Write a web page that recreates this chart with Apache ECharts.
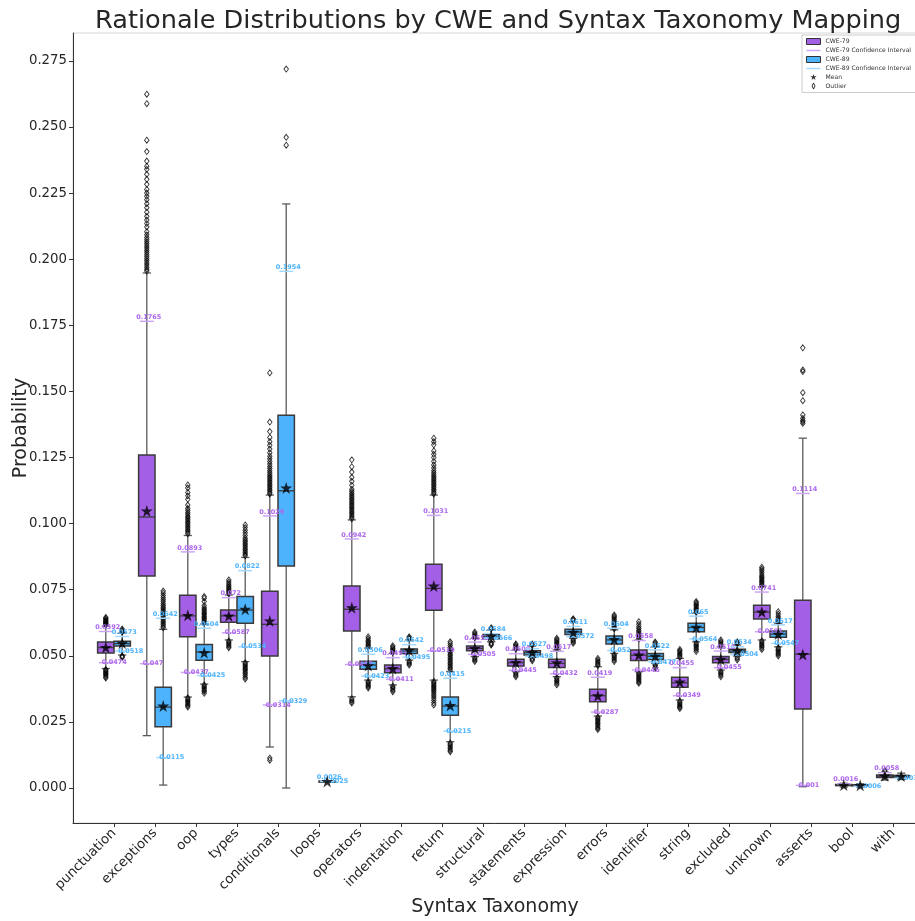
<!DOCTYPE html>
<html><head><meta charset="utf-8">
<script src="https://cdn.jsdelivr.net/npm/echarts@6/dist/echarts.min.js"></script>
<style>html,body{margin:0;padding:0;background:#fff}#c{width:915px;height:921px}</style>
</head><body><div id="c"></div>
<script>
const categories = ['punctuation','exceptions','oop','types','conditionals','loops','operators','indentation','return','structural','statements','expression','errors','identifier','string','excluded','unknown','asserts','bool','with'];
const yTicks = [0, 0.025, 0.05, 0.075, 0.1, 0.125, 0.15, 0.175, 0.2, 0.225, 0.25, 0.275];

// [lower whisker, Q1, median, Q3, upper whisker]
const cwe79Box = [
  [0.0452, 0.0511, 0.0531, 0.0552, 0.0612],
  [0.0198, 0.0802, 0.1025, 0.1259, 0.1948],
  [0.0344, 0.0572, 0.0651, 0.0729, 0.0955],
  [0.0560, 0.0627, 0.0651, 0.0673, 0.0730],
  [0.0155, 0.0499, 0.0619, 0.0744, 0.1108],
  null,
  [0.0345, 0.0594, 0.0676, 0.0764, 0.1014],
  [0.0390, 0.0436, 0.0451, 0.0465, 0.0509],
  [0.0408, 0.0672, 0.0755, 0.0846, 0.1108],
  [0.0497, 0.0519, 0.0528, 0.0537, 0.0566],
  [0.0440, 0.0461, 0.0474, 0.0487, 0.0522],
  [0.0421, 0.0456, 0.0471, 0.0487, 0.0522],
  [0.0272, 0.0326, 0.0349, 0.0373, 0.0459],
  [0.0440, 0.0482, 0.0502, 0.0522, 0.0560],
  [0.0333, 0.0381, 0.0398, 0.0419, 0.0490],
  [0.0446, 0.0474, 0.0486, 0.0497, 0.0534],
  [0.0560, 0.0639, 0.0665, 0.0691, 0.0761],
  [0.0005, 0.0299, 0.0506, 0.0710, 0.1323],
  [0.0004, 0.0009, 0.0011, 0.0013, 0.0018],
  [0.0030, 0.0040, 0.0045, 0.0049, 0.0060]
];
const cwe79Mean = [0.0532, 0.1048, 0.0653, 0.0651, 0.0632, null, 0.0682, 0.0452, 0.0764, 0.0528, 0.0475, 0.0474, 0.0349, 0.0503, 0.0401, 0.0487, 0.0666, 0.0505, 0.0011, 0.0046];
const cwe79CI = [
  [0.0474, 0.0592], [0.047, 0.1765], [0.0437, 0.0893], [0.0587, 0.072], [0.0314, 0.1029], null,
  [0.0467, 0.0942], [0.0411, 0.0493], [0.0519, 0.1031], [0.0505, 0.0552], [0.0445, 0.0508],
  [0.0432, 0.0517], [0.0287, 0.0419], [0.0446, 0.0558], [0.0349, 0.0455], [0.0455, 0.0518],
  [0.0591, 0.0741], [0.001, 0.1114], [null, 0.0016], [null, 0.0058]
];
const cwe79Outliers = [
  [0.0616,0.0619,0.0622,0.0625,0.0628,0.0631,0.0634,0.0638,0.0642,0.0645,0.0448,0.0445,0.0441,0.0437,0.0433,0.0429,0.0425,0.042,0.0416],
  [0.1955,0.1962,0.197,0.1978,0.1986,0.1994,0.2002,0.201,0.2018,0.2026,0.2034,0.2042,0.205,0.2058,0.2066,0.2074,0.2082,0.2092,0.2104,0.2122,0.2135,0.2148,0.2162,0.2178,0.2195,0.221,0.2225,0.2238,0.225,0.2264,0.2283,0.2302,0.2321,0.234,0.2352,0.2371,0.2407,0.245,0.2588,0.2624],
  [0.0962,0.0968,0.0974,0.098,0.0986,0.0992,0.0998,0.1004,0.101,0.1016,0.1022,0.1028,0.1035,0.1042,0.105,0.1058,0.107,0.1092,0.1105,0.1118,0.1135,0.1146,0.0341,0.0336,0.0331,0.0326,0.0321,0.0316,0.0311,0.0306],
  [0.0735,0.074,0.0745,0.075,0.0755,0.076,0.0766,0.0772,0.0779,0.0787,0.0556,0.0551,0.0546,0.0541,0.0535,0.053],
  [0.1112,0.1118,0.1124,0.113,0.1136,0.1142,0.1148,0.1154,0.116,0.1166,0.1172,0.1178,0.1185,0.1192,0.12,0.1208,0.1216,0.1225,0.1235,0.1245,0.1255,0.1268,0.1282,0.1296,0.131,0.1326,0.1348,0.1384,0.157,0.0113,0.0105],
  [],
  [0.1018,0.1024,0.103,0.1036,0.1042,0.1048,0.1054,0.106,0.1066,0.1072,0.1078,0.1084,0.109,0.1096,0.1102,0.1108,0.1115,0.1122,0.113,0.1145,0.116,0.1175,0.1195,0.1215,0.1241,0.0338,0.0332,0.0326,0.0321],
  [0.0513,0.0518,0.0523,0.0528,0.0533,0.0538,0.0385,0.038,0.0375,0.0369,0.0364],
  [0.1112,0.1118,0.1124,0.113,0.1136,0.1142,0.1148,0.1154,0.116,0.1166,0.1172,0.1178,0.1185,0.1192,0.12,0.121,0.1222,0.1235,0.125,0.1262,0.1275,0.1298,0.131,0.1323,0.0403,0.0398,0.0393,0.0388,0.0383,0.0378,0.0373,0.0368,0.0362,0.0355,0.0348,0.034,0.0332,0.0322,0.0314],
  [0.057,0.0575,0.058,0.0585,0.059,0.0493,0.0488,0.0483,0.0478],
  [0.0526,0.0531,0.0536,0.0541,0.0545,0.0436,0.0431,0.0426,0.0421],
  [0.0526,0.0531,0.0536,0.0541,0.0546,0.0551,0.0556,0.0561,0.0566,0.0417,0.0412,0.0407,0.0402,0.0396,0.039],
  [0.0463,0.0468,0.0473,0.0478,0.0484,0.049,0.0268,0.0263,0.0258,0.0253,0.0248,0.0243,0.0238,0.0232,0.0226,0.0221],
  [0.0564,0.0569,0.0574,0.0579,0.0584,0.059,0.0596,0.0603,0.061,0.0619,0.0629,0.0436,0.0431,0.0426,0.0421,0.0416,0.0411,0.0406,0.0401,0.0396],
  [0.0494,0.0499,0.0504,0.0509,0.0514,0.0519,0.0524,0.0329,0.0324,0.0319,0.0314,0.0309,0.0305,0.0301],
  [0.0538,0.0543,0.0548,0.0554,0.056,0.0442,0.0437,0.0432,0.0427,0.0421],
  [0.0765,0.077,0.0775,0.078,0.0785,0.079,0.0795,0.08,0.0806,0.0814,0.0822,0.0828,0.0835,0.0556,0.0551,0.0546,0.0541,0.0536,0.053,0.0524],
  [0.1379,0.1385,0.139,0.1398,0.1411,0.1465,0.1495,0.1575,0.1581,0.1665],
  [],
  [0.0062,0.0066]
];

const cwe89Box = [
  [0.0503, 0.0537, 0.0546, 0.0555, 0.0586],
  [0.0011, 0.0232, 0.0306, 0.0381, 0.0600],
  [0.0393, 0.0483, 0.0514, 0.0543, 0.0620],
  [0.0478, 0.0623, 0.0673, 0.0724, 0.0872],
  [0.0000, 0.0840, 0.1124, 0.1410, 0.2209],
  [0.0025, 0.0025, 0.0025, 0.0026, 0.0026],
  [0.0408, 0.0449, 0.0465, 0.0479, 0.0529],
  [0.0484, 0.0509, 0.0518, 0.0526, 0.0560],
  [0.0175, 0.0275, 0.0310, 0.0344, 0.0440],
  [0.0553, 0.0564, 0.0573, 0.0581, 0.0598],
  [0.0494, 0.0503, 0.0512, 0.0519, 0.0537],
  [0.0566, 0.0581, 0.0590, 0.0600, 0.0629],
  [0.0509, 0.0545, 0.0560, 0.0575, 0.0598],
  [0.0471, 0.0486, 0.0498, 0.0509, 0.0534],
  [0.0553, 0.0591, 0.0607, 0.0623, 0.0661],
  [0.0499, 0.0512, 0.0518, 0.0525, 0.0541],
  [0.0534, 0.0570, 0.0582, 0.0594, 0.0623],
  null,
  [0.0004, 0.0008, 0.0010, 0.0012, 0.0016],
  [0.0032, 0.0041, 0.0044, 0.0047, 0.0056]
];
const cwe89Mean = [0.0548, 0.0310, 0.0512, 0.0676, 0.1135, 0.0025, 0.0463, 0.0521, 0.0312, 0.0575, 0.0513, 0.0589, 0.0562, 0.0499, 0.0608, 0.0519, 0.0582, null, 0.0010, 0.0045];
const cwe89CI = [
  [0.0518, 0.0573], [0.0115, 0.0642], [0.0425, 0.0604], [0.0534, 0.0822], [0.0329, 0.1954], [0.0025, 0.0026],
  [0.0423, 0.0506], [0.0495, 0.0542], [0.0215, 0.0415], [0.0566, 0.0584], [0.0498, 0.0527],
  [0.0572, 0.0611], [0.052, 0.0604], [0.0477, 0.0522], [0.0564, 0.065], [0.0504, 0.0534],
  [0.0547, 0.0617], null, [0.0006, null], [0.0037, null]
];
const cwe89Outliers = [
  [0.059,0.0593,0.0597,0.0601,0.05,0.0497,0.0494],
  [0.0606,0.0612,0.0618,0.0624,0.063,0.0636,0.0642,0.0648,0.0654,0.066,0.0666,0.0672,0.0678,0.0684,0.069,0.0697,0.0705,0.0712,0.072,0.0728,0.0737,0.0745],
  [0.0625,0.063,0.0635,0.064,0.0645,0.065,0.0655,0.066,0.0665,0.067,0.0676,0.0682,0.069,0.0705,0.0718,0.0724,0.039,0.0385,0.038,0.0375,0.037,0.0365,0.0358],
  [0.0878,0.0884,0.089,0.0896,0.0902,0.0908,0.0914,0.092,0.0926,0.0932,0.0938,0.0945,0.0955,0.0965,0.0975,0.0985,0.0995,0.0474,0.0469,0.0464,0.0459,0.0454,0.0449,0.0444,0.0438,0.0432,0.0425,0.0418,0.0412],
  [0.2431,0.2461,0.2719],
  [],
  [0.0533,0.0538,0.0543,0.0548,0.0553,0.0558,0.0565,0.0572,0.0403,0.0398,0.0393,0.0388,0.0383,0.0378],
  [0.0564,0.0568,0.0572,0.048,0.0475,0.047,0.0465],
  [0.0446,0.0452,0.0458,0.0464,0.047,0.0476,0.0482,0.0488,0.0494,0.05,0.0506,0.0512,0.0518,0.0524,0.053,0.0538,0.0546,0.0553,0.017,0.0165,0.016,0.0154,0.0148,0.0142,0.0137],
  [0.0602,0.0606,0.0549,0.0545,0.0541],
  [0.054,0.0545,0.049,0.0486,0.0481],
  [0.0633,0.0637,0.064,0.0562,0.0557,0.0552,0.0547],
  [0.0602,0.0607,0.0612,0.0617,0.0622,0.0627,0.0632,0.0638,0.0644,0.0649,0.0654,0.0505,0.05,0.0495,0.049,0.0484,0.0478],
  [0.0538,0.0543,0.0548,0.0552,0.0467,0.0462,0.0457,0.0453],
  [0.0665,0.067,0.0675,0.068,0.0685,0.069,0.0695,0.07,0.0705,0.0549,0.0544,0.0539,0.0534,0.0529,0.0523,0.0516],
  [0.0545,0.0549,0.0553,0.0495,0.049,0.0484],
  [0.0627,0.0632,0.0637,0.0643,0.065,0.0658,0.0667,0.053,0.0525,0.052,0.0515,0.051,0.0505,0.0499],
  [],
  [],
  []
];

const PURPLE = '#a35fe6', BLUE = '#4db3fc';
const PURPLE_TXT = '#ad66ee', BLUE_TXT = '#4fb4fd';
const PURPLE_CI = '#cda6f3', BLUE_CI = '#a3d8ff';
const FONT = 'DejaVu Sans';
const OFFSET = 0.2, BOXW = 0.4;
const STAR = 'path://M50,0 L61.2,34.5 L97.6,34.5 L68.2,55.9 L79.4,90.5 L50,69.1 L20.6,90.5 L31.8,55.9 L2.4,34.5 L38.8,34.5 Z';

function boxData(arr, off) {
  const out = [];
  arr.forEach((b, i) => { if (b) out.push([i + off].concat(b)); });
  return out;
}
function meanData(arr, off) {
  const out = [];
  arr.forEach((m, i) => { if (m != null) out.push([i + off, m]); });
  return out;
}
function ciData(arr, off) {
  const out = [];
  arr.forEach((c, i) => {
    if (!c) return;
    if (c[0] != null) out.push([i + off, c[0], 0]);
    if (c[1] != null) out.push([i + off, c[1], 1]);
  });
  return out;
}
function outData(arr, off) {
  const out = [];
  arr.forEach((list, i) => list.forEach(v => out.push([i + off, v])));
  return out;
}

function renderBox(color) {
  return function (params, api) {
    const x = api.value(0);
    const lo = api.coord([x, api.value(1)]);
    const q1 = api.coord([x, api.value(2)]);
    const md = api.coord([x, api.value(3)]);
    const q3 = api.coord([x, api.value(4)]);
    const hi = api.coord([x, api.value(5)]);
    const w = api.size([BOXW, 0])[0];
    const cx = lo[0];
    const c = w / 4;
    const ws = { stroke: '#5a5a5a', lineWidth: 1.3 };
    return {
      type: 'group',
      children: [
        { type: 'line', shape: { x1: cx, y1: q1[1], x2: cx, y2: lo[1] }, style: ws },
        { type: 'line', shape: { x1: cx, y1: q3[1], x2: cx, y2: hi[1] }, style: ws },
        { type: 'line', shape: { x1: cx - c, y1: lo[1], x2: cx + c, y2: lo[1] }, style: ws },
        { type: 'line', shape: { x1: cx - c, y1: hi[1], x2: cx + c, y2: hi[1] }, style: ws },
        { type: 'rect', shape: { x: cx - w / 2, y: q3[1], width: w, height: Math.max(q1[1] - q3[1], 1) },
          style: { fill: color, stroke: '#3a3a3a', lineWidth: 1.5 } },
        { type: 'line', shape: { x1: cx - w / 2, y1: md[1], x2: cx + w / 2, y2: md[1] }, style: { stroke: '#3a3a3a', lineWidth: 1.3 } }
      ]
    };
  };
}
function renderCI(txtColor, lineColor) {
  return function (params, api) {
    const x = api.value(0), v = api.value(1), kind = api.value(2);
    const p = api.coord([x, v]);
    const label = String(Math.round(v * 10000) / 10000);
    const text = kind === 1
      ? { type: 'text', x: p[0] + 2, y: p[1] - 0.5, style: { text: label, fill: txtColor, font: 'bold 6.5px "DejaVu Sans"', align: 'center', verticalAlign: 'bottom' } }
      : { type: 'text', x: p[0] - 4, y: p[1], style: { text: label, fill: txtColor, font: 'bold 6.5px "DejaVu Sans"', align: 'left', verticalAlign: 'middle' } };
    return {
      type: 'group',
      children: [
        { type: 'line', shape: { x1: p[0] - 7, y1: p[1], x2: p[0] + 7, y2: p[1] }, style: { stroke: lineColor, lineWidth: 1.5 } },
        text
      ]
    };
  };
}

const chart = echarts.init(document.getElementById('c'), null, { renderer: 'canvas' });
const catIdx = categories.map((c, i) => i);

chart.setOption({
  animation: false,
  backgroundColor: '#fff',
  textStyle: { fontFamily: FONT },
  title: {
    text: 'Rationale Distributions by CWE and Syntax Taxonomy Mapping',
    left: 90, top: 3,
    textStyle: { fontSize: 25.6, fontWeight: 'normal', color: '#262626', fontFamily: FONT }
  },
  grid: { left: 73, right: -2, top: 33, bottom: 98, containLabel: false, outerBoundsMode: 'none',
    show: true, borderColor: '#d6d6d6', borderWidth: 1 },
  legend: {
    left: 802, top: 35, orient: 'vertical',
    itemWidth: 14, itemHeight: 6, itemGap: 2.5,
    padding: [3, 20, 3, 4],
    borderColor: '#cccccc', borderWidth: 1, backgroundColor: '#fff',
    textStyle: { fontSize: 6.1, color: '#333', fontFamily: FONT },
    data: [
      { name: 'CWE-79', icon: 'rect', itemStyle: { color: PURPLE, borderColor: '#333', borderWidth: 1 } },
      { name: 'CWE-79 Confidence Interval', icon: 'path://M0,0H20V2H0Z', itemStyle: { color: PURPLE_CI, borderWidth: 0 } },
      { name: 'CWE-89', icon: 'rect', itemStyle: { color: BLUE, borderColor: '#333', borderWidth: 1 } },
      { name: 'CWE-89 Confidence Interval', icon: 'path://M0,0H20V2H0Z', itemStyle: { color: BLUE_CI, borderWidth: 0 } },
      { name: 'Mean', icon: STAR, itemStyle: { color: '#000' } },
      { name: 'Outlier', icon: 'path://M5,0L9,8L5,16L1,8Z', itemStyle: { color: '#fff', borderColor: '#000', borderWidth: 1 } }
    ]
  },
  xAxis: {
    type: 'value', min: -1, max: 19.585,
    splitLine: { show: false },
    axisLine: { show: true, onZero: false, lineStyle: { color: '#333', width: 1 } },
    axisTick: { show: true, length: 4, customValues: catIdx, lineStyle: { color: '#333' } },
    axisLabel: { customValues: catIdx, formatter: v => categories[Math.round(v)] || '', rotate: 45, fontSize: 13.3, color: '#262626', margin: 8, fontFamily: FONT },
    name: 'Syntax Taxonomy', nameLocation: 'middle', nameGap: 75, nameMoveOverlap: false,
    nameTextStyle: { fontSize: 19, color: '#262626', fontFamily: FONT }
  },
  yAxis: {
    type: 'value', min: -0.01324, max: 0.28555,
    splitLine: { show: false },
    axisLine: { show: true, onZero: false, lineStyle: { color: '#333', width: 1 } },
    axisTick: { show: true, length: 4, customValues: yTicks, lineStyle: { color: '#333' } },
    axisLabel: { customValues: yTicks, formatter: v => Number(v).toFixed(3), fontSize: 13.3, color: '#262626', margin: 6, fontFamily: FONT },
    name: 'Probability', nameLocation: 'middle', nameGap: 42, nameMoveOverlap: false,
    nameTextStyle: { fontSize: 19, color: '#262626', fontFamily: FONT }
  },
  series: [
    { name: 'CWE-79', type: 'custom', renderItem: renderBox(PURPLE), data: boxData(cwe79Box, -OFFSET), itemStyle: { color: PURPLE }, z: 2, clip: false },
    { name: 'CWE-89', type: 'custom', renderItem: renderBox(BLUE), data: boxData(cwe89Box, OFFSET), itemStyle: { color: BLUE }, z: 2, clip: false },
    { name: 'Outlier', type: 'scatter', symbol: 'diamond', symbolSize: [4.5, 6],
      itemStyle: { color: 'rgba(0,0,0,0)', borderColor: '#000', borderWidth: 0.9 },
      data: outData(cwe79Outliers, -OFFSET).concat(outData(cwe89Outliers, OFFSET)), z: 3 },
    { name: 'CWE-79 Confidence Interval', type: 'custom', renderItem: renderCI(PURPLE_TXT, PURPLE_CI), data: ciData(cwe79CI, -OFFSET), itemStyle: { color: PURPLE_CI }, z: 4, clip: false },
    { name: 'CWE-89 Confidence Interval', type: 'custom', renderItem: renderCI(BLUE_TXT, BLUE_CI), data: ciData(cwe89CI, OFFSET), itemStyle: { color: BLUE_CI }, z: 4, clip: false },
    { name: 'Mean', type: 'scatter', symbol: STAR, symbolSize: 12, itemStyle: { color: '#000' },
      data: meanData(cwe79Mean, -OFFSET).concat(meanData(cwe89Mean, OFFSET)), z: 5 }
  ]
});
</script>
</body></html>
